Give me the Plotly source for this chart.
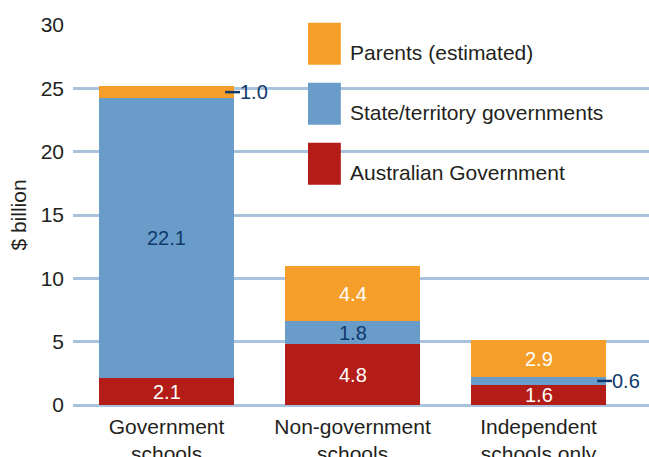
import plotly.graph_objects as go

categories = ["Government<br>schools", "Non-government<br>schools", "Independent<br>schools only"]
australian_gov = [2.1, 4.8, 1.6]
state_gov = [22.1, 1.8, 0.6]
parents = [1.0, 4.4, 2.9]
series_names = ["Parents (estimated)", "State/territory governments", "Australian Government"]
y_ticks = [0, 5, 10, 15, 20, 25, 30]

C_RED = "#b41c18"
C_BLUE = "#6a9cca"
C_ORANGE = "#f59e29"
C_GRID = "#a9c3df"
C_NAVY = "#10396b"
C_TEXT = "#231f20"
FONT = "Liberation Sans, Arial, Helvetica, sans-serif"

x = list(range(len(categories)))
BW = 0.726

fig = go.Figure()
for vals, col in [(australian_gov, C_RED), (state_gov, C_BLUE), (parents, C_ORANGE)]:
    fig.add_trace(go.Bar(x=x, y=vals, marker=dict(color=col, line=dict(width=0)),
                         width=BW, showlegend=False, hoverinfo="skip"))

# segment labels
label_specs = [
    (australian_gov, [0] * 3, ["white", "white", "white"]),
    (state_gov, australian_gov, [C_NAVY, C_NAVY, None]),
    (parents, [a + s for a, s in zip(australian_gov, state_gov)], [None, "white", "white"]),
]
for vals, bases, cols in label_specs:
    for i, (v, b, c) in enumerate(zip(vals, bases, cols)):
        mid = b + v / 2
        if c is not None:
            fig.add_annotation(x=i, y=mid, text=f"{v:.1f}", showarrow=False,
                               font=dict(size=20, color=c, family=FONT),
                               xanchor="center", yanchor="middle")
        else:
            fig.add_shape(type="line", x0=i + 0.315, x1=i + 0.395, y0=mid, y1=mid,
                          line=dict(color=C_NAVY, width=2.5))
            fig.add_annotation(x=i + 0.395, y=mid, text=f"{v:.1f}", showarrow=False,
                               font=dict(size=20, color=C_NAVY, family=FONT),
                               xanchor="left", yanchor="middle", xshift=-2)

# custom legend
leg_cols = [C_ORANGE, C_BLUE, C_RED]
box_tops = [1.006, 0.848, 0.690]
for name, col, top in zip(series_names, leg_cols, box_tops):
    fig.add_shape(type="rect", xref="paper", yref="paper", x0=0.408, x1=0.465,
                  y0=top - 0.1105, y1=top, fillcolor=col, line=dict(width=0), layer="above")
    fig.add_annotation(xref="paper", yref="paper", x=0.477, y=top - 0.078, text=name,
                       showarrow=False, xanchor="left", yanchor="middle",
                       font=dict(size=21, color=C_TEXT, family=FONT))

fig.update_layout(
    width=649, height=457,
    margin=dict(l=73, r=0, t=25, b=52, autoexpand=False),
    paper_bgcolor="white", plot_bgcolor="white",
    barmode="stack", bargap=0,
    font=dict(family=FONT, color=C_TEXT, size=20),
    xaxis=dict(range=[-0.503, 2.594], tickvals=x, ticktext=categories, automargin=False,
               showgrid=False, zeroline=False, showline=False, ticks="",
               tickfont=dict(size=21, color=C_TEXT), ticklabelstandoff=7, fixedrange=True),
    yaxis=dict(range=[0, 30], tickvals=y_ticks, showgrid=True, gridcolor=C_GRID, gridwidth=3,
               zeroline=True, zerolinecolor=C_GRID, zerolinewidth=3, showline=False, ticks="",
               automargin=False,
               tickfont=dict(size=21, color=C_TEXT), ticklabelstandoff=8, fixedrange=True,
               title=dict(text="$ billion", font=dict(size=21, color=C_TEXT), standoff=8)),
)

fig.write_html("out.html", config={"displayModeBar": False},
               post_script="document.body.style.margin='0px';")
